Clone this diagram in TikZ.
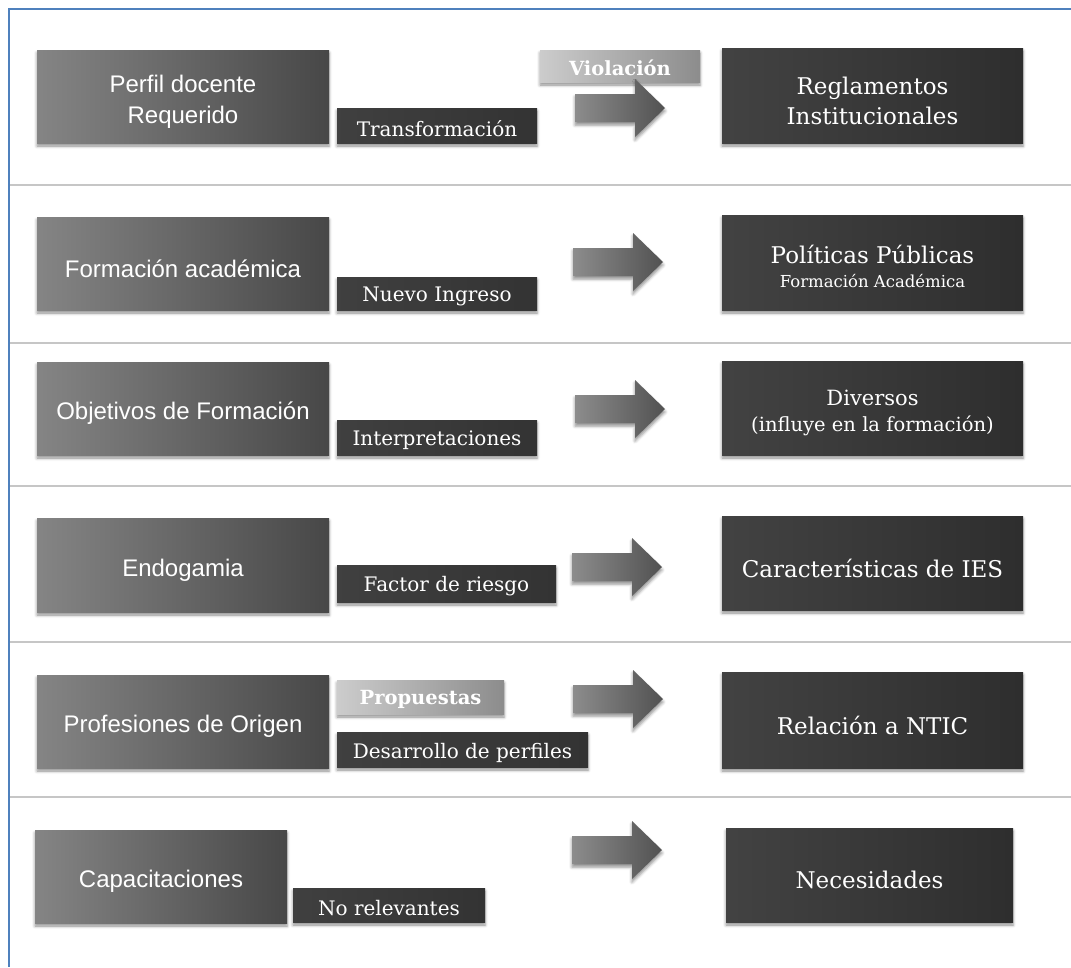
\documentclass[tikz,border=0pt]{standalone}
\usepackage{fontspec}
\setmainfont{DejaVu Serif}
\newfontfamily\boxsans{Liberation Sans}
\usetikzlibrary{shadows.blur}

\definecolor{framecol}{HTML}{4F81BD}
\definecolor{sepcol}{HTML}{C6C6C6}

\tikzset{
  boxshadow/.style={blur shadow={shadow xshift=0pt, shadow yshift=-3pt,
      shadow blur radius=3pt, shadow opacity=45}},
  sized/.style 2 args={minimum width=#1 pt, minimum height=#2 pt,
      inner sep=0pt, outer sep=0pt},
  % grey concept box on the left of each row
  lbox/.style={boxshadow, left color=black!48, right color=black!72},
  ltext/.style={text=white, align=center, inner sep=0pt,
      font=\boxsans\fontsize{24}{31}\selectfont},
  % dark result box on the right
  rbox/.style={boxshadow, left color=black!74, right color=black!82},
  rtext/.style={text=white, align=center, inner sep=0pt,
      font=\fontsize{23}{30}\selectfont},
  % small dark tag
  dtag/.style={boxshadow, left color=black!75, right color=black!80},
  % small light tag
  ltag/.style={boxshadow, left color=black!20, right color=black!45},
  tagtext/.style={text=white, inner sep=0pt, font=\fontsize{20}{22}\selectfont},
  arrowfill/.style={left color=black!45, right color=black!68, boxshadow},
  rowarrow/.pic={
    \path[arrowfill] (-45,-14) -- (15,-14) -- (15,-29) -- (45,0)
      -- (15,29) -- (15,14) -- (-45,14) -- cycle;
  },
  sepline/.style={draw=sepcol, line width=2.2pt},
  frameline/.style={draw=framecol, line width=2pt}
}

\begin{document}
\begin{tikzpicture}[x=1pt, y=-1pt]
\useasboundingbox (0,0) rectangle (1071,967);

% outer frame (top and left edges)
\coordinate (ftl) at (8.5,8.5);
\coordinate (ftr) at (1071,8.5);
\coordinate (fbl) at (8.5,967);
\draw[frameline] (ftr) -- (ftl) -- (fbl);

% row separators
\foreach \yy/\nm in {185/s1, 343/s2, 486/s3, 642/s4, 797/s5}{
  \coordinate (\nm a) at (10,\yy);
  \coordinate (\nm b) at (1071,\yy);
  \draw[sepline] (\nm a) -- (\nm b);
}

% boxes
\node[lbox, sized={292}{93}] (l1) at (183,96.5) {};
\node[dtag, sized={200}{35}] (t1) at (437,125.5) {};
\node[ltag, sized={160}{32}] (v1) at (620,66) {};
\pic at (620,108) {rowarrow};
\node[rbox, sized={301}{95}] (r1) at (872.5,95.5) {};

\node[lbox, sized={292}{93}] (l2) at (183,263.5) {};
\node[dtag, sized={200}{33}] (t2) at (437,293.5) {};
\pic at (618,262) {rowarrow};
\node[rbox, sized={301}{95}] (r2) at (872.5,262.5) {};

\node[lbox, sized={292}{93}] (l3) at (183,408.5) {};
\node[dtag, sized={200}{35}] (t3) at (437,437.5) {};
\pic at (620,409) {rowarrow};
\node[rbox, sized={301}{94}] (r3) at (872.5,408) {};

\node[lbox, sized={292}{94}] (l4) at (183,565) {};
\node[dtag, sized={219}{37}] (t4) at (446.5,583.5) {};
\pic at (617,567) {rowarrow};
\node[rbox, sized={301}{94}] (r4) at (872.5,563) {};

\node[lbox, sized={292}{93}] (l5) at (183,721.5) {};
\node[ltag, sized={167}{34}] (p5) at (420.5,697) {};
\node[dtag, sized={251}{35}] (t5) at (462.5,749.5) {};
\pic at (618,699) {rowarrow};
\node[rbox, sized={301}{96}] (r5) at (872.5,720) {};

\node[lbox, sized={252}{93}] (l6) at (161,876.5) {};
\node[dtag, sized={192}{34}] (t6) at (389,905) {};
\pic at (617,850) {rowarrow};
\node[rbox, sized={287}{94}] (r6) at (869.5,875) {};

% texts, set a little below the middle of each box
\node[ltext] (l1x) at ([yshift=-5pt]l1.center) {Perfil docente\\Requerido};
\node[ltext] (l2x) at ([yshift=-5pt]l2.center) {Formación académica};
\node[ltext] (l3x) at ([yshift=-5pt]l3.center) {Objetivos de Formación};
\node[ltext] (l4x) at ([yshift=-5pt]l4.center) {Endogamia};
\node[ltext] (l5x) at ([yshift=-5pt]l5.center) {Profesiones de Origen};
\node[ltext] (l6x) at ([yshift=-5pt]l6.center) {Capacitaciones};

\node[tagtext] (t1x) at ([yshift=-3pt]t1.center) {Transformación};
\node[tagtext] (t2x) at ([yshift=-3pt]t2.center) {Nuevo Ingreso};
\node[tagtext] (t3x) at ([yshift=-3pt]t3.center) {Interpretaciones};
\node[tagtext] (t4x) at ([yshift=-3pt]t4.center) {Factor de riesgo};
\node[tagtext] (t5x) at ([yshift=-3pt]t5.center) {Desarrollo de perfiles};
\node[tagtext] (t6x) at ([yshift=-3pt]t6.center) {No relevantes};
\node[tagtext, font=\bfseries\fontsize{19.5}{22}\selectfont] (v1x) at ([yshift=-2pt]v1.center) {Violación};
\node[tagtext, font=\bfseries\fontsize{19.5}{22}\selectfont] (p5x) at ([yshift=-2pt]p5.center) {Propuestas};

\node[rtext] (r1x) at ([yshift=-5pt]r1.center) {Reglamentos\\Institucionales};
\node[rtext] (r2x) at ([yshift=-4pt]r2.center) {Políticas Públicas\\[-6pt]{\fontsize{16.5}{19}\selectfont Formación Académica}};
\node[rtext] (r3x) at ([yshift=-5pt]r3.center) {{\fontsize{21}{26}\selectfont Diversos}\\[-4pt]{\fontsize{19.5}{22}\selectfont (influye en la formación)}};
\node[rtext] (r4x) at ([yshift=-5pt]r4.center) {Características de IES};
\node[rtext] (r5x) at ([yshift=-5pt]r5.center) {Relación a NTIC};
\node[rtext] (r6x) at ([yshift=-5pt]r6.center) {Necesidades};
\end{tikzpicture}
\end{document}
